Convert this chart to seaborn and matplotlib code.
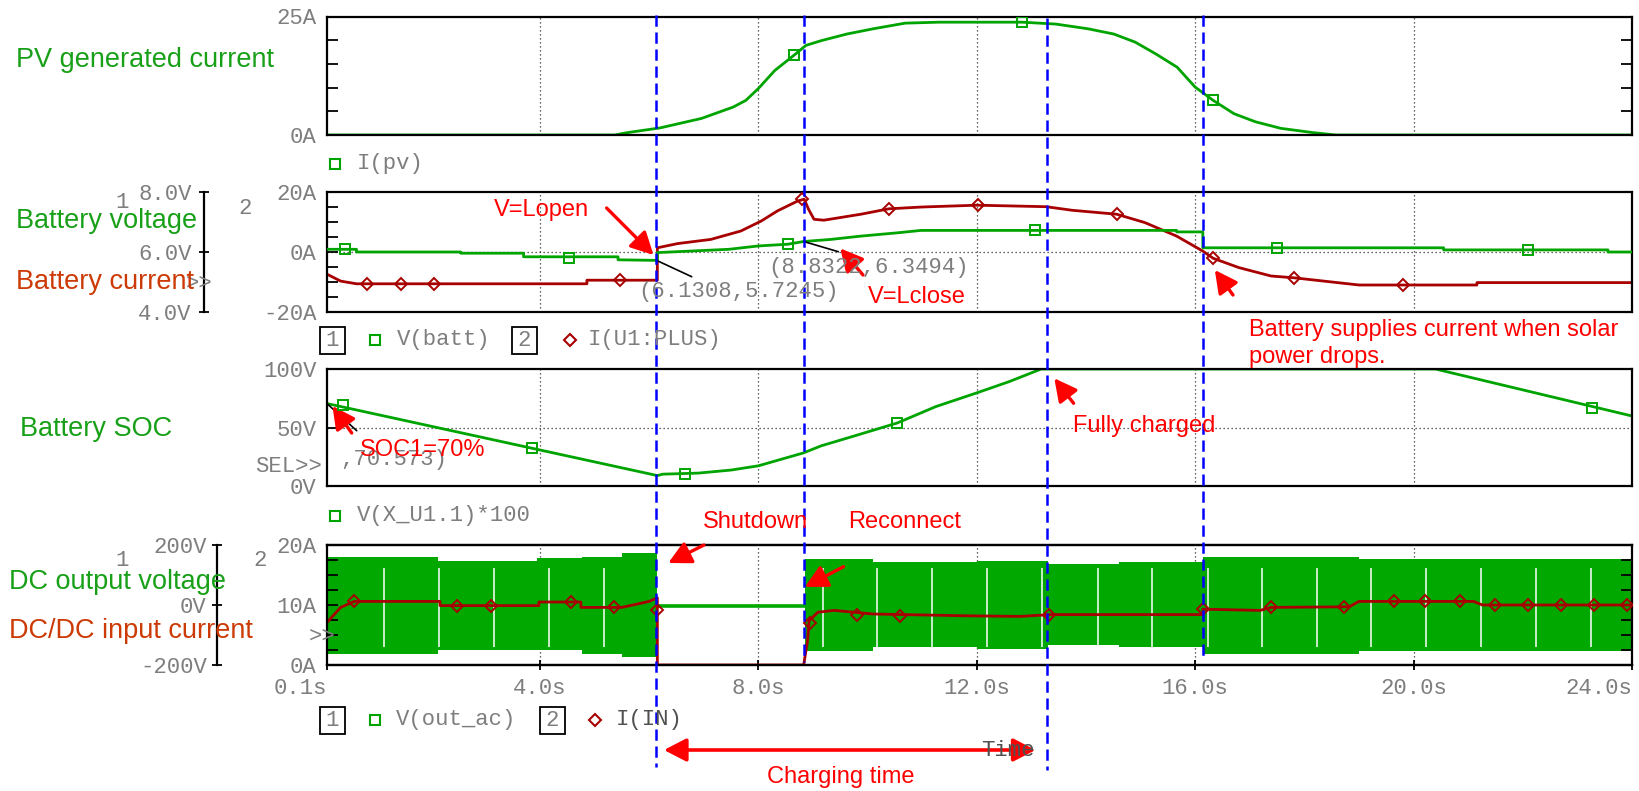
import matplotlib
matplotlib.use("Agg")
import matplotlib.pyplot as plt
from matplotlib.patches import Rectangle
from matplotlib.ticker import MultipleLocator
import seaborn as sns

W, H = 1639, 791
DPI = 100

# ---------------- data ----------------
t_lo, t_hi = 0.1, 24.0
time_ticks = [0.1, 4.0, 8.0, 12.0, 16.0, 20.0, 24.0]
time_labels = ["0.1s", "4.0s", "8.0s", "12.0s", "16.0s", "20.0s", "24.0s"]
grid_times = [4.0, 8.0, 12.0, 16.0, 20.0]

# events
t_open = 6.1308
v_open = 5.7245
t_close = 8.8322
v_close = 6.3494
t_full = 13.28
t_discharge = 16.14
soc_init = 70.573
event_times = [t_open, t_close, t_full, t_discharge]

# I(pv)
pv_t = [0.1, 5.37, 5.6, 6.2, 6.96, 7.54, 7.77, 8.0, 8.3, 8.65, 8.87, 9.15, 9.62,
        10.1, 10.69, 11.3, 12.02, 12.83, 13.45, 14.04, 14.51, 14.9, 15.28, 15.67,
        16.0, 16.33, 16.71, 17.1, 17.57, 18.16, 18.58, 24.0]
pv_a = [0, 0, 0.5, 1.5, 3.5, 5.9, 7.3, 9.8, 13.6, 16.8, 18.9, 19.9, 21.3,
        22.4, 23.6, 23.8, 23.8, 23.8, 23.4, 22.4, 21.3, 19.6, 17.1, 14.3,
        10.1, 7.3, 4.5, 2.8, 1.4, 0.5, 0, 0]
pv_mark_t = [8.65, 12.83, 16.33]
pv_mark_a = [16.8, 23.8, 7.3]

# V(batt)
vb_t = [0.1, 0.64, 0.64, 2.55, 2.55, 3.7, 3.7, 5.43, 5.43, 6.15, 6.15, 7.46, 7.99,
        8.54, 8.83, 9.33, 9.88, 10.55, 10.98, 15.66, 15.66, 16.14, 16.14, 20.55,
        20.55, 23.56, 23.56, 24.0]
vb_v = [6.09, 6.09, 6.0, 6.0, 5.96, 5.96, 5.84, 5.84, 5.74, 5.72, 5.98, 6.09, 6.2,
        6.26, 6.35, 6.42, 6.53, 6.64, 6.72, 6.72, 6.67, 6.67, 6.14, 6.14,
        6.07, 6.07, 6.0, 6.0]
vb_mark_t = [0.43, 4.54, 8.54, 13.07, 17.5, 22.1]
vb_mark_v = [6.09, 5.80, 6.26, 6.72, 6.14, 6.07]

# I(U1:PLUS)
ib_t = [0.1, 0.35, 0.64, 4.86, 4.86, 6.15, 6.15, 6.52, 7.13, 7.68, 8.05, 8.35,
        8.72, 8.84, 8.92, 9.02, 9.2, 9.88, 10.39, 11.0, 12.0, 13.27, 13.75,
        14.56, 15.08, 15.66, 16.14, 16.33, 16.8, 17.39, 17.81, 19.0, 21.16,
        21.16, 24.0]
ib_a = [-7.4, -9.7, -10.6, -10.6, -9.4, -9.4, 1.4, 2.8, 4.2, 7.0, 10.3, 13.7,
        17.0, 17.6, 14.2, 10.9, 10.6, 12.6, 14.4, 15.0, 15.6, 15.1, 13.9,
        12.6, 9.8, 5.3, 0.3, -2.1, -5.2, -8.0, -8.6, -11.0, -11.0,
        -10.2, -10.2]
ib_mark_t = [0.83, 1.45, 2.06, 5.46, 8.8, 10.39, 12.02, 14.56, 16.33, 17.81, 19.8]
ib_mark_a = [-10.6, -10.6, -10.6, -9.4, 17.6, 14.4, 15.6, 12.6, -2.1, -8.6, -11.0]

# V(X_U1.1)*100  (state of charge)
soc_t = [0.1, 6.15, 6.25, 6.9, 7.5, 8.0, 8.82, 9.15, 9.72, 10.54, 11.25, 12.02,
         12.59, 13.18, 20.4, 24.0]
soc_v = [70.6, 9.3, 10.5, 11.4, 14.0, 17.6, 28.5, 34.6, 42.5, 54.0, 68.0, 80.0,
         89.2, 100.0, 100.0, 60.0]
soc_mark_t = [0.4, 3.86, 6.65, 10.54, 23.27]
soc_mark_v = [69.4, 32.6, 10.8, 54.0, 66.6]

# V(out_ac) envelope (upper / lower peaks of the AC output)
ac1_t = [0.12, 2.13, 3.95, 4.77, 5.5, 6.15]
ac1_hi = [159, 148, 155, 159, 174, 174]
ac1_lo = [-162, -150, -150, -163, -174, -174]
ac2_t = [8.85, 10.1, 12.0, 13.3, 14.6, 16.14, 19.0, 24.0]
ac2_hi = [154, 142, 148, 137, 142, 159, 154, 154]
ac2_lo = [-153, -141, -147, -135, -141, -162, -155, -155]
idle_t = [6.15, 8.85]
idle_v = [-2, -2]
ac_gap_t = [1.15, 2.15, 3.16, 4.16, 5.17, 9.18, 10.17, 11.18, 12.19, 13.2,
            14.22, 15.21, 16.24, 17.22, 18.23, 19.22, 20.23, 21.23, 22.24, 23.25]

# I(IN)
in_t = [0.1, 0.35, 0.6, 2.17, 2.17, 3.98, 3.98, 4.75, 4.75, 5.5, 6.0, 6.15,
        6.15, 8.83, 8.9, 8.93, 9.09, 9.39, 10.1, 11.8, 12.79, 13.36, 16.14,
        16.14, 17.19, 17.39, 18.82, 19.0, 21.1, 21.26, 24.0]
in_a = [7.1, 9.6, 10.6, 10.6, 9.9, 9.9, 10.5, 10.5, 9.6, 9.6, 10.6, 11.2,
        0, 0, 4.0, 7.4, 8.8, 9.1, 8.5, 8.2, 8.1, 8.4, 8.4,
        9.3, 9.1, 9.6, 9.7, 10.6, 10.6, 10.0, 10.0]
in_mark_t = [0.59, 2.48, 3.11, 4.57, 5.35, 6.15, 8.95, 9.8, 10.6, 13.33, 16.14,
             17.39, 18.73, 19.64, 20.2, 20.85, 21.5, 22.1, 22.7, 23.3, 23.9]
in_mark_a = [10.6, 9.9, 9.9, 10.5, 9.6, 9.2, 7.0, 8.4, 8.2, 8.3, 9.3,
             9.6, 9.7, 10.6, 10.6, 10.6, 10.0, 10.0, 10.0, 10.0, 10.0]

# ---------------- style ----------------
GREEN = "#00a400"
BAND = "#00a800"
DKRED = "#a80000"
TGREEN = "#18a018"
TORANGE = "#cc3a06"
RED = "#ff0000"
BLUE = "#0000ff"
GREY = "#7e7e7e"
MONO = ["Liberation Mono", "DejaVu Sans Mono"]
SANS = ["Liberation Sans", "DejaVu Sans"]

sns.set_theme(style="white")
plt.rcParams["font.family"] = MONO

fig = plt.figure(figsize=(W / DPI, H / DPI), dpi=DPI, facecolor="white")

L, R = 327, 1632


def rect(top, bottom):
    return [L / W, 1 - bottom / H, (R - L) / W, (bottom - top) / H]


def fpx(x, y):
    return (x, H - y)


def frame(ax):
    for s in ax.spines.values():
        s.set_color("black")
        s.set_linewidth(1.6)
    ax.set_xlim(t_lo, t_hi)
    ax.set_xlabel("")
    ax.set_ylabel("")


def grid(ax, mid=None):
    for t in grid_times:
        ax.axvline(t, color="#303030", lw=0.9, ls=(0, (1, 2.2)), zorder=0.5)
    if mid is not None:
        ax.axhline(mid, color="#303030", lw=0.9, ls=(0, (1, 2.2)), zorder=0.5)


def no_x(ax):
    ax.set_xticks(grid_times)
    ax.tick_params(axis="x", length=0, labelbottom=False, bottom=False)


def y_in(ax, minor=None, left=True, right=True):
    if minor:
        ax.yaxis.set_minor_locator(MultipleLocator(minor))
    ax.tick_params(axis="y", which="both", direction="in", left=left, right=right,
                   labelleft=True, labelright=False, length=8, width=1.3,
                   color="black", labelsize=16, labelcolor=GREY, pad=7.5)


def y_offset(ax, offset_px, pad):
    ax.yaxis.tick_left()
    for k in ("right", "top", "bottom"):
        ax.spines[k].set_visible(False)
    ax.spines["left"].set_visible(True)
    ax.spines["left"].set_position(("axes", -offset_px / (R - L)))
    ax.tick_params(axis="y", which="both", direction="inout", left=True, right=False,
                   labelleft=True, labelright=False, length=7, width=1.3,
                   color="black", labelsize=16, labelcolor=GREY, pad=pad)


def line(ax, x, y, color, lw=2.0):
    sns.lineplot(x=x, y=y, ax=ax, color=color, linewidth=lw,
                 estimator=None, sort=False)
    ax.set_xlabel("")
    ax.set_ylabel("")


def marks(ax, x, y, color, marker):
    ax.plot(x, y, ls="none", marker=marker, ms=7 if marker == "s" else 6.5,
            mfc="none", mec=color, mew=1.4, zorder=4)


# ---- panel 1: PV current ----
a1 = fig.add_axes(rect(16.5, 135))
frame(a1)
grid(a1)
line(a1, pv_t, pv_a, GREEN)
marks(a1, pv_mark_t, pv_mark_a, GREEN, "s")
a1.set_ylim(0, 25)
a1.set_yticks([0, 25])
a1.set_yticklabels(["0A", "25A"])
y_in(a1, minor=5)
no_x(a1)

# ---- panel 2: battery voltage / current ----
a2 = fig.add_axes(rect(192, 312))
frame(a2)
grid(a2, mid=0)
line(a2, ib_t, ib_a, DKRED)
marks(a2, ib_mark_t, ib_mark_a, DKRED, "D")
a2.set_ylim(-20, 20)
a2.set_yticks([-20, 0, 20])
a2.set_yticklabels(["-20A", "0A", "20A"])
y_in(a2, minor=5)
no_x(a2)

a2v = a2.twinx()
frame(a2v)
line(a2v, vb_t, vb_v, GREEN)
marks(a2v, vb_mark_t, vb_mark_v, GREEN, "s")
a2v.set_ylim(4, 8)
a2v.set_yticks([4, 6, 8])
a2v.set_yticklabels(["4.0V", "6.0V", "8.0V"])
y_offset(a2v, 123, 5.5)

# ---- panel 3: SOC ----
a3 = fig.add_axes(rect(369, 486.5))
frame(a3)
grid(a3, mid=50)
line(a3, soc_t, soc_v, GREEN)
marks(a3, soc_mark_t, soc_mark_v, GREEN, "s")
a3.set_ylim(0, 100)
a3.set_yticks([0, 50, 100])
a3.set_yticklabels(["0V", "50V", "100V"])
y_in(a3, right=False)
no_x(a3)

# ---- panel 4: DC output voltage / DC-DC input current ----
a4v = fig.add_axes(rect(545, 665))
frame(a4v)
grid(a4v, mid=0)
a4v.fill_between(ac1_t, ac1_lo, ac1_hi, step="post", color=BAND, lw=0, zorder=2)
a4v.fill_between(ac2_t, ac2_lo, ac2_hi, step="post", color=BAND, lw=0, zorder=2)
a4v.vlines(ac_gap_t, -140, 125, color="white", lw=1.1, zorder=2.5)
line(a4v, idle_t, idle_v, BAND, lw=2.6)
a4v.set_ylim(-200, 200)
a4v.set_yticks([-200, 0, 200])
a4v.set_yticklabels(["-200V", "0V", "200V"])
a4v.set_xticks(time_ticks)
a4v.set_xticklabels(time_labels)
xl = a4v.get_xticklabels()
xl[0].set_ha("right")
xl[-1].set_ha("right")
a4v.tick_params(axis="x", direction="inout", bottom=True, length=7, width=1.3,
                color="black", labelsize=16, labelcolor=GREY, pad=6)

a4i = a4v.twinx()
frame(a4i)
a4i.set_zorder(a4v.get_zorder() + 1)
a4i.patch.set_visible(False)
line(a4i, in_t, in_a, DKRED)
marks(a4i, in_mark_t, in_mark_a, DKRED, "D")
a4i.set_ylim(0, 20)
a4i.set_yticks([0, 10, 20])
a4i.set_yticklabels(["0A", "10A", "20A"])
a4i.yaxis.tick_left()
y_in(a4i, minor=2.5)
y_offset(a4v, 110, 3.8)
for k in ("top", "bottom"):
    a4v.spines[k].set_visible(True)

# ---- cursor read-outs (black leader lines) ----
leader = dict(arrowstyle="-", color="black", lw=1.2, shrinkA=0, shrinkB=0)
a2v.annotate("", xy=(t_open, v_open), xytext=fpx(691.7, 276.7),
             textcoords="figure pixels", arrowprops=leader, annotation_clip=False)
a2v.annotate("", xy=(t_close, v_close), xytext=fpx(838.3, 251.7),
             textcoords="figure pixels", arrowprops=leader, annotation_clip=False)
a3.annotate("", xy=(t_lo, soc_init), xytext=fpx(356.7, 430.7),
            textcoords="figure pixels", arrowprops=leader, annotation_clip=False)

# ---- red call-out arrows ----
def red_arrow(ax, xy, tail):
    ax.annotate("", xy=xy, xytext=fpx(*tail), textcoords="figure pixels",
                annotation_clip=False,
                arrowprops=dict(arrowstyle="-|>,head_length=0.62,head_width=0.32",
                                mutation_scale=22, color=RED, lw=2.4,
                                shrinkA=0, shrinkB=0))


red_arrow(a2v, (6.08, 5.9), (606.6, 208))
red_arrow(a2v, (9.5, 6.12), (863, 275))
red_arrow(a2, (16.36, -6.0), (1233, 295))
red_arrow(a3, (13.42, 92.1), (1073.6, 403.3))
red_arrow(a3, (0.2, 68.5), (351.7, 433))
red_arrow(a4i, (6.35, 17.0), (704, 545))
red_arrow(a4i, (8.85, 13.0), (843.5, 566.7))

# ---- overlay in time / pixel coordinates: event markers ----
ovt = fig.add_axes([L / W, 0, (R - L) / W, 1])
ovt.set_xlim(t_lo, t_hi)
ovt.set_ylim(H, 0)
ovt.axis("off")
ovt.set_zorder(5)
event_top = [15, 15, 18, 15]
event_bottom = [767, 662, 770, 657]
for t, y0, y1 in zip(event_times, event_top, event_bottom):
    ovt.plot([t, t], [y0, y1], color=BLUE, lw=1.8, ls=(0, (4.5, 2.3)))
ovt.annotate("", xy=(t_open, 750), xytext=(t_full, 750),
             arrowprops=dict(arrowstyle="<|-|>,head_length=0.62,head_width=0.32",
                             mutation_scale=22, color=RED, lw=2.6,
                             shrinkA=8, shrinkB=5.5))

# ---- overlay in pixel coordinates: labels, legends ----
ov = fig.add_axes([0, 0, 1, 1])
ov.set_xlim(0, W)
ov.set_ylim(H, 0)
ov.axis("off")
ov.set_zorder(6)


def mono(x, y, s, color=GREY, ha="left", va="center", size=16):
    ov.text(x, y, s, color=color, ha=ha, va=va, fontsize=size, fontfamily=MONO)


def sans(x, y, s, color, size=19.5, ha="left"):
    ov.text(x, y, s, color=color, ha=ha, va="baseline", fontsize=size,
            fontfamily=SANS)


def numbox(x, y, s):
    ov.add_patch(Rectangle((x - 12.5, y - 13.5), 25, 27, fill=False,
                           ec="black", lw=1.3))
    mono(x, y, s, ha="center")


def lmark(x, y, color, marker):
    ov.plot([x], [y], ls="none", marker=marker, ms=7 if marker == "s" else 6,
            mfc="none", mec=color, mew=1.5)


# axis-number hints next to the stacked scales
mono(115, 203, "1")
mono(238, 209, "2")
mono(186, 283, ">>")
mono(115, 561, "1")
mono(253, 561, "2")
mono(309, 636, ">>")
mono(255, 466, "SEL>>")

# trace titles
sans(15.7, 66.7, "PV generated current", TGREEN)
sans(15.7, 228.3, "Battery voltage", TGREEN)
sans(15.7, 289.3, "Battery current", TORANGE)
sans(19.9, 436, "Battery SOC", TGREEN)
sans(9.4, 589.3, "DC output voltage", TGREEN)
sans(9.4, 637.7, "DC/DC input current", TORANGE)

# legends
lmark(335, 164, GREEN, "s")
mono(357, 164, "I(pv)")
numbox(332.5, 340, "1")
lmark(375, 340, GREEN, "s")
mono(397, 340, "V(batt)")
numbox(524.5, 340, "2")
lmark(570, 340, DKRED, "D")
mono(588, 340, "I(U1:PLUS)")
lmark(335, 516, GREEN, "s")
mono(357, 516, "V(X_U1.1)*100")
numbox(332.5, 720, "1")
lmark(375, 720, GREEN, "s")
mono(396, 720, "V(out_ac)")
numbox(552, 720, "2")
lmark(595, 720, DKRED, "D")
mono(616, 720, "I(IN)", color="#505050")
mono(981, 750, "Time", color="#505050")

# cursor values
mono(638, 292, f"({t_open:.4f},{v_open:.4f})")
mono(768, 267, f"({t_close:.4f},{v_close:.4f})")
mono(340, 460, f",{soc_init:.3f})")

# red notes
sans(494, 216, "V=Lopen", RED, size=17)
sans(868, 303.3, "V=Lclose", RED, size=17)
sans(1249, 335.7, "Battery supplies current when solar", RED, size=17)
sans(1249, 363.3, "power drops.", RED, size=17)
sans(1072.6, 431.7, "Fully charged", RED, size=17)
sans(360, 456, "SOC1=70%", RED, size=17)
sans(703, 527.7, "Shutdown", RED, size=17)
sans(848, 528.3, "Reconnect", RED, size=17)
sans(841, 783.3, "Charging time", RED, size=17, ha="center")

fig.savefig("out.png", dpi=DPI, facecolor="white")
